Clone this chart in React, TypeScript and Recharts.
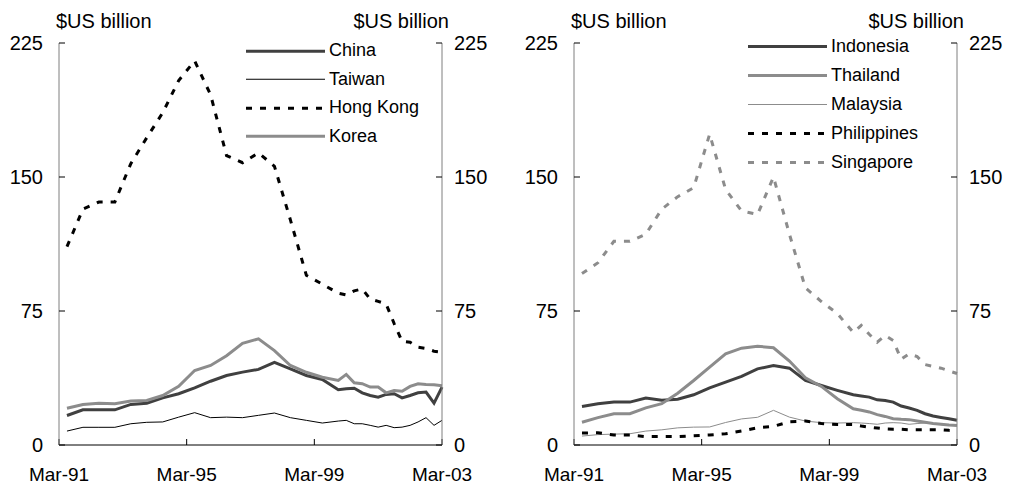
import React from 'react';
import { LineChart, Line, XAxis, YAxis } from 'recharts';

// Observation dates: half-yearly to end-1999, quarterly after
const dates = [
  'Jun-91', 'Dec-91', 'Jun-92', 'Dec-92', 'Jun-93', 'Dec-93', 'Jun-94', 'Dec-94',
  'Jun-95', 'Dec-95', 'Jun-96', 'Dec-96', 'Jun-97', 'Dec-97', 'Jun-98', 'Dec-98',
  'Jun-99', 'Dec-99', 'Mar-00', 'Jun-00', 'Sep-00', 'Dec-00', 'Mar-01', 'Jun-01',
  'Sep-01', 'Dec-01', 'Mar-02', 'Jun-02', 'Sep-02', 'Dec-02', 'Mar-03',
];

// $US billion
const china = [
  16.5, 19.7, 19.7, 19.7, 22.7, 23.4, 26.4, 28.7, 32, 35.7, 38.9, 40.8, 42.3, 46.3, 42.6, 38.9,
  36.7, 30.9, 31.5, 31.8, 29.2, 27.7, 26.8, 28.3, 28.7, 26.4, 27.7, 29.2, 29.6, 23.4, 32.4,
];
const taiwan = [
  7.8, 9.9, 9.9, 9.9, 11.9, 12.7, 12.9, 15.6, 18.1, 15.3, 15.6, 15.3, 16.6, 17.9, 15.3, 13.8,
  12.3, 13.4, 13.8, 11.9, 11.9, 11, 10, 11, 9.7, 10, 11, 12.9, 15.3, 11, 13.8,
];
const hongKong = [
  111, 132, 136, 136, 157.5, 172, 186, 204, 215, 196, 162, 158, 163.5, 156, 126, 95,
  90, 85, 84, 86.3, 87.3, 81.7, 80.4, 78.9, 68, 58, 57.5, 54.7, 54, 52.5, 52,
];
const korea = [
  20.6, 22.7, 23.3, 23.1, 24.6, 24.9, 27.7, 32.8, 41.7, 44.5, 50, 56.9, 59.4, 52.8, 44.5, 40.7,
  37.9, 36.1, 39.5, 34.8, 34.3, 32.4, 32.4, 29.2, 30.5, 30.1, 32.8, 34.3, 33.9, 33.7, 33.1,
];
const indonesia = [
  21.6, 23.1, 24, 24, 26.3, 25, 25.6, 28.1, 32, 35.2, 38.4, 42.6, 44.5, 43, 36.2, 33.3,
  30.6, 28.1, 27.4, 26.8, 25.3, 24.9, 24, 21.8, 20.7, 19.4, 17.5, 16.2, 15.4, 14.7, 13.8,
];
const thailand = [
  12.7, 15.3, 17.5, 17.5, 20.8, 23.1, 29, 36.1, 43.6, 51, 54.2, 55.3, 54.4, 47, 37.6, 32.8,
  25.9, 20.3, 19.4, 18.5, 17, 16, 14.7, 14.4, 14.2, 13.4, 12.7, 12, 11.6, 11.2, 10.9,
];
const malaysia = [
  5, 5.8, 6.1, 6.3, 7.8, 8.5, 9.6, 10, 10.1, 12.6, 14.6, 15.5, 19.4, 15.6, 13.4, 12.5,
  12.3, 12.5, 12.3, 12, 11.6, 12.3, 12.5, 12.3, 11.6, 12, 12.3, 12, 11.4, 11, 11,
];
const philippines = [
  6.7, 6.9, 5.6, 5.6, 4.7, 4.7, 4.7, 5.2, 5.6, 6.3, 7.8, 9.7, 10.4, 13, 13.4, 12,
  11.5, 11.5, 10.6, 10, 9.5, 9, 8.8, 8.8, 8.5, 8.5, 8.5, 8.5, 8.5, 8.2, 8,
];
const singapore = [
  96, 102, 114, 114, 118, 132, 139, 144, 174, 143, 131, 129, 150, 118, 88, 80.3,
  73.6, 63, 67, 62, 57.5, 61.3, 58.5, 48, 51, 49.5, 45, 44, 43, 41.5, 40,
];

const xTickLabels = ['Mar-91', 'Mar-95', 'Mar-99', 'Mar-03'];
const yTicks = [0, 75, 150, 225];

const MONTH_NUM: Record<string, number> = { Mar: 3, Jun: 6, Sep: 9, Dec: 12 };

// months since Mar-91
const monthIndex = (d: string) => {
  const [mon, yy] = d.split('-');
  const year = +yy < 50 ? 2000 + +yy : 1900 + +yy;
  return (year - 1991) * 12 + MONTH_NUM[mon] - 3;
};

const xTicks = xTickLabels.map(monthIndex);

const rows = dates.map((d, i) => ({
  m: monthIndex(d),
  china: china[i],
  taiwan: taiwan[i],
  hongKong: hongKong[i],
  korea: korea[i],
  indonesia: indonesia[i],
  thailand: thailand[i],
  malaysia: malaysia[i],
  philippines: philippines[i],
  singapore: singapore[i],
}));

const DARK = '#404040';
const GREY = '#8c8c8c';
const FONT = 'Arial, "Liberation Sans", sans-serif';

type Series = { key: string; name: string; color: string; width: number; dash?: string };

const northSeries: Series[] = [
  { key: 'china', name: 'China', color: DARK, width: 3 },
  { key: 'taiwan', name: 'Taiwan', color: '#000', width: 1 },
  { key: 'hongKong', name: 'Hong Kong', color: '#000', width: 3, dash: '6 8' },
  { key: 'korea', name: 'Korea', color: GREY, width: 3 },
];

const southSeries: Series[] = [
  { key: 'indonesia', name: 'Indonesia', color: DARK, width: 3 },
  { key: 'thailand', name: 'Thailand', color: GREY, width: 3 },
  { key: 'malaysia', name: 'Malaysia', color: GREY, width: 1 },
  { key: 'philippines', name: 'Philippines', color: '#000', width: 3, dash: '6 8' },
  { key: 'singapore', name: 'Singapore', color: GREY, width: 3, dash: '6 8' },
];

const W = 505;
const H = 486;

const xTickStyle = { fill: '#000', fontSize: 19, fontFamily: FONT };
const yTickStyle = { fill: '#000', fontSize: 20, fontFamily: FONT };

const LegendBox = ({ series, rowH }: { series: Series[]; rowH: number }) => (
  <div style={{ fontFamily: FONT, fontSize: 18, color: '#000' }}>
    {series.map((s) => (
      <div key={s.key} style={{ display: 'flex', alignItems: 'center', height: rowH }}>
        <svg width={80} height={rowH} style={{ display: 'block' }}>
          <line
            x1={0}
            x2={79}
            y1={rowH / 2}
            y2={rowH / 2}
            stroke={s.color}
            strokeWidth={s.width}
            strokeDasharray={s.dash}
          />
        </svg>
        <span style={{ marginLeft: 3, whiteSpace: 'nowrap' }}>{s.name}</span>
      </div>
    ))}
  </div>
);

const Panel = ({
  series,
  legendLeft,
  legendTop,
  rowH,
}: {
  series: Series[];
  legendLeft: number;
  legendTop: number;
  rowH: number;
}) => (
  <div style={{ position: 'relative', width: W, height: H }}>
    <LineChart width={W} height={H} data={rows} margin={{ top: 43, right: 0, bottom: 0, left: 0 }}>
      <XAxis
        dataKey="m"
        type="number"
        domain={[0, 144]}
        ticks={xTicks}
        interval={0}
        tickFormatter={(v: number) => xTickLabels[xTicks.indexOf(v)]}
        height={41}
        tickSize={-6}
        tickMargin={29}
        axisLine={{ stroke: '#000' }}
        tickLine={{ stroke: '#000' }}
        tick={xTickStyle}
      />
      <YAxis
        yAxisId="left"
        domain={[0, 225]}
        ticks={yTicks}
        interval={0}
        width={59}
        tickSize={-6}
        tickMargin={22}
        axisLine={{ stroke: '#7f7f7f' }}
        tickLine={{ stroke: '#000' }}
        tick={yTickStyle}
      />
      <YAxis
        yAxisId="right"
        orientation="right"
        domain={[0, 225]}
        ticks={yTicks}
        interval={0}
        width={63}
        tickSize={-6}
        tickMargin={18}
        axisLine={{ stroke: '#7f7f7f' }}
        tickLine={{ stroke: '#000' }}
        tick={yTickStyle}
      />
      {series.map((s, i) => (
        <Line
          key={s.key}
          yAxisId={i === series.length - 1 ? 'right' : 'left'}
          type="linear"
          dataKey={s.key}
          name={s.name}
          stroke={s.color}
          strokeWidth={s.width}
          strokeDasharray={s.dash}
          dot={false}
          isAnimationActive={false}
        />
      ))}
    </LineChart>
    <div style={{ position: 'absolute', left: legendLeft, top: legendTop }}>
      <LegendBox series={series} rowH={rowH} />
    </div>
    <svg
      width={W}
      height={40}
      style={{ position: 'absolute', left: 0, top: 0, pointerEvents: 'none' }}
    >
      <text x={56} y={28} fontSize={20} fontFamily={FONT} fill="#000">
        $US billion
      </text>
      <text x={449} y={28} fontSize={20} fontFamily={FONT} fill="#000" textAnchor="end">
        $US billion
      </text>
    </svg>
  </div>
);

export default function App() {
  return (
    <div style={{ position: 'absolute', left: 0, top: 0, width: 1009, height: 486, background: '#fff' }}>
      <div style={{ position: 'absolute', left: 0, top: 0 }}>
        <Panel series={northSeries} legendLeft={246} legendTop={36.5} rowH={28.5} />
      </div>
      <div style={{ position: 'absolute', left: 515, top: 0 }}>
        <Panel series={southSeries} legendLeft={233} legendTop={32.2} rowH={29} />
      </div>
    </div>
  );
}
